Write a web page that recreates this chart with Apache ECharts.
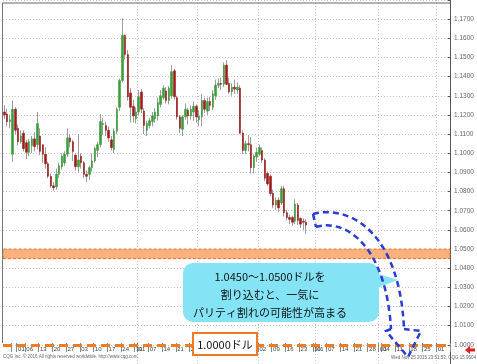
<!DOCTYPE html>
<html><head><meta charset="utf-8">
<script src="https://cdn.jsdelivr.net/npm/echarts@6/dist/echarts.min.js"></script>
<style>html,body{margin:0;padding:0;background:#fff}#c{width:477px;height:364px}</style>
</head><body><div id="c"></div>
<script>
// ---- data ----
const firstDay = '2015-06-24';
const lastDay = '2016-02-05';
const opens = [1.1215,1.1205,1.1165,1.0995,1.1230,1.1130,1.1060,1.1105,1.1055,1.1005,1.1040,1.1075,1.1045,1.1090,1.1045,1.0995,1.0945,1.0880,1.0830,1.0825,1.0890,1.0930,1.0950,1.0995,1.1080,1.1060,1.0990,1.0930,1.0985,1.0950,1.0890,1.0890,1.0925,1.0960,1.1015,1.1045,1.1150,1.1145,1.1120,1.1070,1.1020,1.1115,1.1240,1.1380,1.1615,1.1515,1.1315,1.1245,1.1180,1.1215,1.1320,1.1220,1.1120,1.1145,1.1165,1.1180,1.1195,1.1255,1.1290,1.1325,1.1275,1.1300,1.1430,1.1290,1.1190,1.1125,1.1190,1.1225,1.1195,1.1215,1.1245,1.1175,1.1190,1.1275,1.1220,1.1270,1.1240,1.1300,1.1355,1.1365,1.1360,1.1460,1.1365,1.1320,1.1345,1.1330,1.1340,1.1105,1.1015,1.1050,1.1045,1.0925,1.0980,1.0995,1.1015,1.0965,1.0895,1.0880,1.0790,1.0730,1.0755,1.0740,1.0815,1.0690,1.0665,1.0665,1.0645,1.0730,1.0660,1.0645,1.0640];
const closes = [1.1200,1.1165,1.1175,1.1230,1.1120,1.1060,1.1090,1.1025,1.1005,1.1060,1.1075,1.1035,1.1155,1.1010,1.0995,1.0945,1.0880,1.0830,1.0820,1.0890,1.0935,1.0985,1.0995,1.1080,1.1060,1.1010,1.0930,1.0965,1.0950,1.0890,1.0880,1.0925,1.0960,1.1025,1.1045,1.1165,1.1155,1.1120,1.1080,1.1030,1.1115,1.1230,1.1380,1.1615,1.1515,1.1295,1.1240,1.1195,1.1215,1.1295,1.1230,1.1145,1.1155,1.1170,1.1195,1.1215,1.1265,1.1300,1.1340,1.1275,1.1340,1.1425,1.1295,1.1190,1.1130,1.1190,1.1230,1.1195,1.1230,1.1245,1.1190,1.1195,1.1275,1.1230,1.1270,1.1250,1.1310,1.1355,1.1365,1.1360,1.1460,1.1360,1.1320,1.1345,1.1335,1.1345,1.1105,1.1015,1.1050,1.1045,1.0925,1.0985,1.1005,1.1030,1.0965,1.0870,1.0840,1.0790,1.0730,1.0755,1.0715,1.0815,1.0690,1.0665,1.0655,1.0640,1.0735,1.0650,1.0630,1.0640,1.0625];
const lows = [1.1180,1.1140,1.1130,1.0955,1.1100,1.1040,1.1050,1.1010,1.0970,1.0985,1.1000,1.1010,1.1020,1.0990,1.0950,1.0920,1.0870,1.0820,1.0805,1.0810,1.0870,1.0915,1.0935,1.0980,1.1030,1.0960,1.0910,1.0900,1.0920,1.0870,1.0850,1.0860,1.0905,1.0950,1.0980,1.1030,1.1095,1.1090,1.1060,1.1015,1.1000,1.1100,1.1220,1.1370,1.1490,1.1275,1.1160,1.1160,1.1155,1.1200,1.1210,1.1100,1.1090,1.1130,1.1140,1.1160,1.1170,1.1240,1.1280,1.1260,1.1255,1.1285,1.1280,1.1175,1.1105,1.1090,1.1175,1.1150,1.1175,1.1170,1.1160,1.1140,1.1140,1.1210,1.1200,1.1220,1.1225,1.1280,1.1340,1.1330,1.1345,1.1355,1.1310,1.1300,1.1310,1.1310,1.1100,1.0995,1.0995,1.1010,1.0895,1.0895,1.0955,1.0985,1.0950,1.0855,1.0830,1.0775,1.0715,1.0705,1.0695,1.0730,1.0670,1.0650,1.0630,1.0620,1.0630,1.0625,1.0610,1.0600,1.0580];
const highs = [1.1250,1.1230,1.1200,1.1275,1.1240,1.1150,1.1120,1.1120,1.1070,1.1075,1.1090,1.1110,1.1215,1.1130,1.1045,1.1030,1.0955,1.0895,1.0850,1.0920,1.0950,1.1000,1.1010,1.1130,1.1100,1.1070,1.1000,1.1100,1.1000,1.0960,1.0910,1.0935,1.1000,1.1035,1.1060,1.1205,1.1185,1.1165,1.1140,1.1090,1.1130,1.1240,1.1390,1.1705,1.1620,1.1540,1.1340,1.1280,1.1240,1.1330,1.1335,1.1235,1.1170,1.1185,1.1215,1.1235,1.1290,1.1330,1.1355,1.1345,1.1350,1.1460,1.1440,1.1300,1.1200,1.1200,1.1260,1.1235,1.1250,1.1270,1.1255,1.1225,1.1310,1.1290,1.1290,1.1295,1.1330,1.1385,1.1390,1.1395,1.1475,1.1485,1.1395,1.1365,1.1385,1.1370,1.1355,1.1120,1.1065,1.1095,1.1085,1.0995,1.1030,1.1045,1.1030,1.0975,1.0905,1.0890,1.0810,1.0770,1.0770,1.0830,1.0830,1.0705,1.0680,1.0675,1.0760,1.0740,1.0665,1.0660,1.0655];
const zoneLow = 1.0450, zoneHigh = 1.0500;
const parity = 1.0000;
const yMin = 0.99, yMax = 1.18, yStep = 0.01;
const labelFirst = 1.0000, labelLast = 1.1700;
const parityText = '1.0000ドル';
const noteLines = ['1.0450～1.0500ドルを', '割り込むと、一気に', 'パリティ割れの可能性が高まる'];
const copyText = 'CQG Inc. © 2016 All rights reserved worldwide. http://www.cqg.com';
const stampText = 'Wed Nov 25 2015 23:51:53, CQG 15.9604';

// ---- categories: weekdays ----
const categories = [];
{
  const d = new Date(firstDay + 'T00:00:00Z');
  const end = new Date(lastDay + 'T00:00:00Z');
  while (d <= end) {
    const w = d.getUTCDay();
    if (w > 0 && w < 6) categories.push(d.toISOString().slice(0, 10));
    d.setUTCDate(d.getUTCDate() + 1);
  }
}
const dOf = s => new Date(s + 'T00:00:00Z');
const isTick = (i, v) => { const d = dOf(v); return d.getUTCDay() === 1 || d.getUTCDate() === 1; };
const isLabel = (i, v) => i >= 5 && isTick(i, v);
const isMonthStart = (i, v) => i > 30 && dOf(categories[i - 1]).getUTCMonth() !== dOf(v).getUTCMonth();

const wickData = categories.map((c, i) => i < opens.length ? [opens[i], closes[i], lows[i], highs[i]] : '-');
const bodyData = categories.map((c, i) => i < opens.length ?
  [opens[i], closes[i], Math.min(opens[i], closes[i]), Math.max(opens[i], closes[i])] : '-');

const chart = echarts.init(document.getElementById('c'), null, { renderer: 'canvas' });
const blue = '#2a3bd6';
const dash = [6, 4];
const arrowStyle = { stroke: blue, lineWidth: 2.5, lineDash: dash, fill: null };

chart.setOption({
  animation: false,
  backgroundColor: '#fff',
  grid: [
    { left: 3, right: 27, top: -14, bottom: -2 },
    { left: 3, right: 27, top: 340, height: 3 }
  ],
  xAxis: [{
    type: 'category', data: categories, boundaryGap: true, gridIndex: 0,
    axisLine: { show: false }, axisTick: { show: false }, axisLabel: { show: false },
    splitLine: { show: true, interval: isMonthStart, lineStyle: { color: '#c4c4c4', type: [1, 2], width: 1 } }
  }, {
    type: 'category', data: categories, boundaryGap: true, gridIndex: 1, position: 'bottom',
    axisLine: { show: false },
    axisTick: { show: true, interval: isTick, length: 9, lineStyle: { color: '#888', width: 1 } },
    axisLabel: { interval: isLabel, formatter: v => v.slice(8, 10), fontSize: 6, color: '#444',
      align: 'left', margin: 3, fontFamily: 'Liberation Sans' },
    splitLine: { show: false }
  }],
  yAxis: [{
    type: 'value', position: 'right', min: yMin, max: yMax, interval: yStep, gridIndex: 0,
    axisLine: { show: true, lineStyle: { color: '#555', width: 1 } },
    axisTick: { show: true, length: 2, inside: true, lineStyle: { color: '#555' } },
    axisLabel: { fontSize: 6.5, color: '#666', margin: 4, fontFamily: 'Liberation Sans',
      formatter: v => (v < labelFirst - 1e-6 || v > labelLast + 1e-6) ? '' : v.toFixed(4) },
    splitLine: { show: true, lineStyle: { color: '#c4c4c4', type: [1, 2], width: 1 } }
  }, {
    type: 'value', gridIndex: 1, show: false, min: 0, max: 1
  }],
  series: [
    {
      type: 'candlestick', data: wickData, barWidth: 1, z: 3,
      itemStyle: { color: '#9c9c9c', color0: '#9c9c9c', borderColor: '#9c9c9c', borderColor0: '#9c9c9c', borderWidth: 1 },
      markArea: { silent: true, z: 1,
        itemStyle: { color: '#fbb17e', borderColor: '#e8702a', borderWidth: 1, borderType: [3, 2] },
        data: [[{ yAxis: zoneLow }, { yAxis: zoneHigh }]] },
      markLine: { silent: true, symbol: ['none', 'none'], label: { show: false },
        lineStyle: { color: '#f07c22', width: 3, type: [9, 5] },
        data: [{ yAxis: parity }] }
    },
    {
      type: 'candlestick', data: bodyData, barWidth: 2, z: 4,
      itemStyle: { color: '#3a9e3a', color0: '#a01c1c', borderColor: '#3a9e3a', borderColor0: '#a01c1c', borderWidth: 0.6 }
    }
  ],
  graphic: [
    { type: 'line', shape: { x1: 2, y1: 3, x2: 450, y2: 3 }, style: { stroke: '#666', lineWidth: 1 }, z: 10 },
    { type: 'line', shape: { x1: 2.5, y1: 3, x2: 2.5, y2: 343 }, style: { stroke: '#777', lineWidth: 1 }, z: 10 },
    // speech bubble
    { type: 'polygon', shape: { points: [[352, 266], [372, 290], [398, 280]] }, style: { fill: '#84e4f6' }, z: 20 },
    { type: 'rect', shape: { x: 183, y: 263, width: 196, height: 59, r: 10 }, style: { fill: '#84e4f6' }, z: 20 },
    { type: 'text', x: 270, y: 277, style: { text: noteLines[0], fill: '#111', fontSize: 11, fontFamily: 'Noto Sans CJK JP', textAlign: 'center', textVerticalAlign: 'middle' }, z: 21 },
    { type: 'text', x: 270, y: 295, style: { text: noteLines[1], fill: '#111', fontSize: 11, fontFamily: 'Noto Sans CJK JP', textAlign: 'center', textVerticalAlign: 'middle' }, z: 21 },
    { type: 'text', x: 270, y: 313, style: { text: noteLines[2], fill: '#111', fontSize: 11, fontFamily: 'Noto Sans CJK JP', textAlign: 'center', textVerticalAlign: 'middle' }, z: 21 },
    // parity box
    { type: 'rect', shape: { x: 193, y: 333, width: 64, height: 22 }, style: { fill: '#fff', stroke: '#f07c22', lineWidth: 2 }, z: 20 },
    { type: 'text', x: 225, y: 344.5, style: { text: parityText, fill: '#111', fontSize: 11, fontFamily: 'Noto Sans CJK JP', textAlign: 'center', textVerticalAlign: 'middle' }, z: 21 },
    // blue arrow
    { type: 'line', shape: { x1: 313, y1: 214, x2: 316, y2: 227 }, style: arrowStyle, z: 22 },
    { type: 'bezierCurve', shape: { x1: 313, y1: 214, cpx1: 352, cpy1: 204, cpx2: 400, cpy2: 235, x2: 404, y2: 329 }, style: arrowStyle, z: 22 },
    { type: 'bezierCurve', shape: { x1: 316, y1: 227, cpx1: 345, cpy1: 218, cpx2: 386, cpy2: 245, x2: 391, y2: 329 }, style: arrowStyle, z: 22 },
    { type: 'polyline', shape: { points: [[391, 329], [386, 331], [408, 357], [421, 331], [404, 329]] }, style: arrowStyle, z: 22 },
    // red marker
    { type: 'polygon', shape: { points: [[465, 350], [470, 346], [470, 348.5], [475, 348.5], [475, 351.5], [470, 351.5], [470, 354]] }, style: { fill: '#e01e1e' }, z: 20 },
    // footers
    { type: 'text', x: 3, y: 357, style: { text: copyText, fill: '#666', fontSize: 4.5, fontFamily: 'Liberation Sans', textVerticalAlign: 'middle' }, z: 20 },
    { type: 'text', x: 476, y: 358, style: { text: stampText, fill: '#666', fontSize: 4.5, fontFamily: 'Liberation Sans', textAlign: 'right', textVerticalAlign: 'middle' }, z: 20 }
  ]
});
</script></body></html>
